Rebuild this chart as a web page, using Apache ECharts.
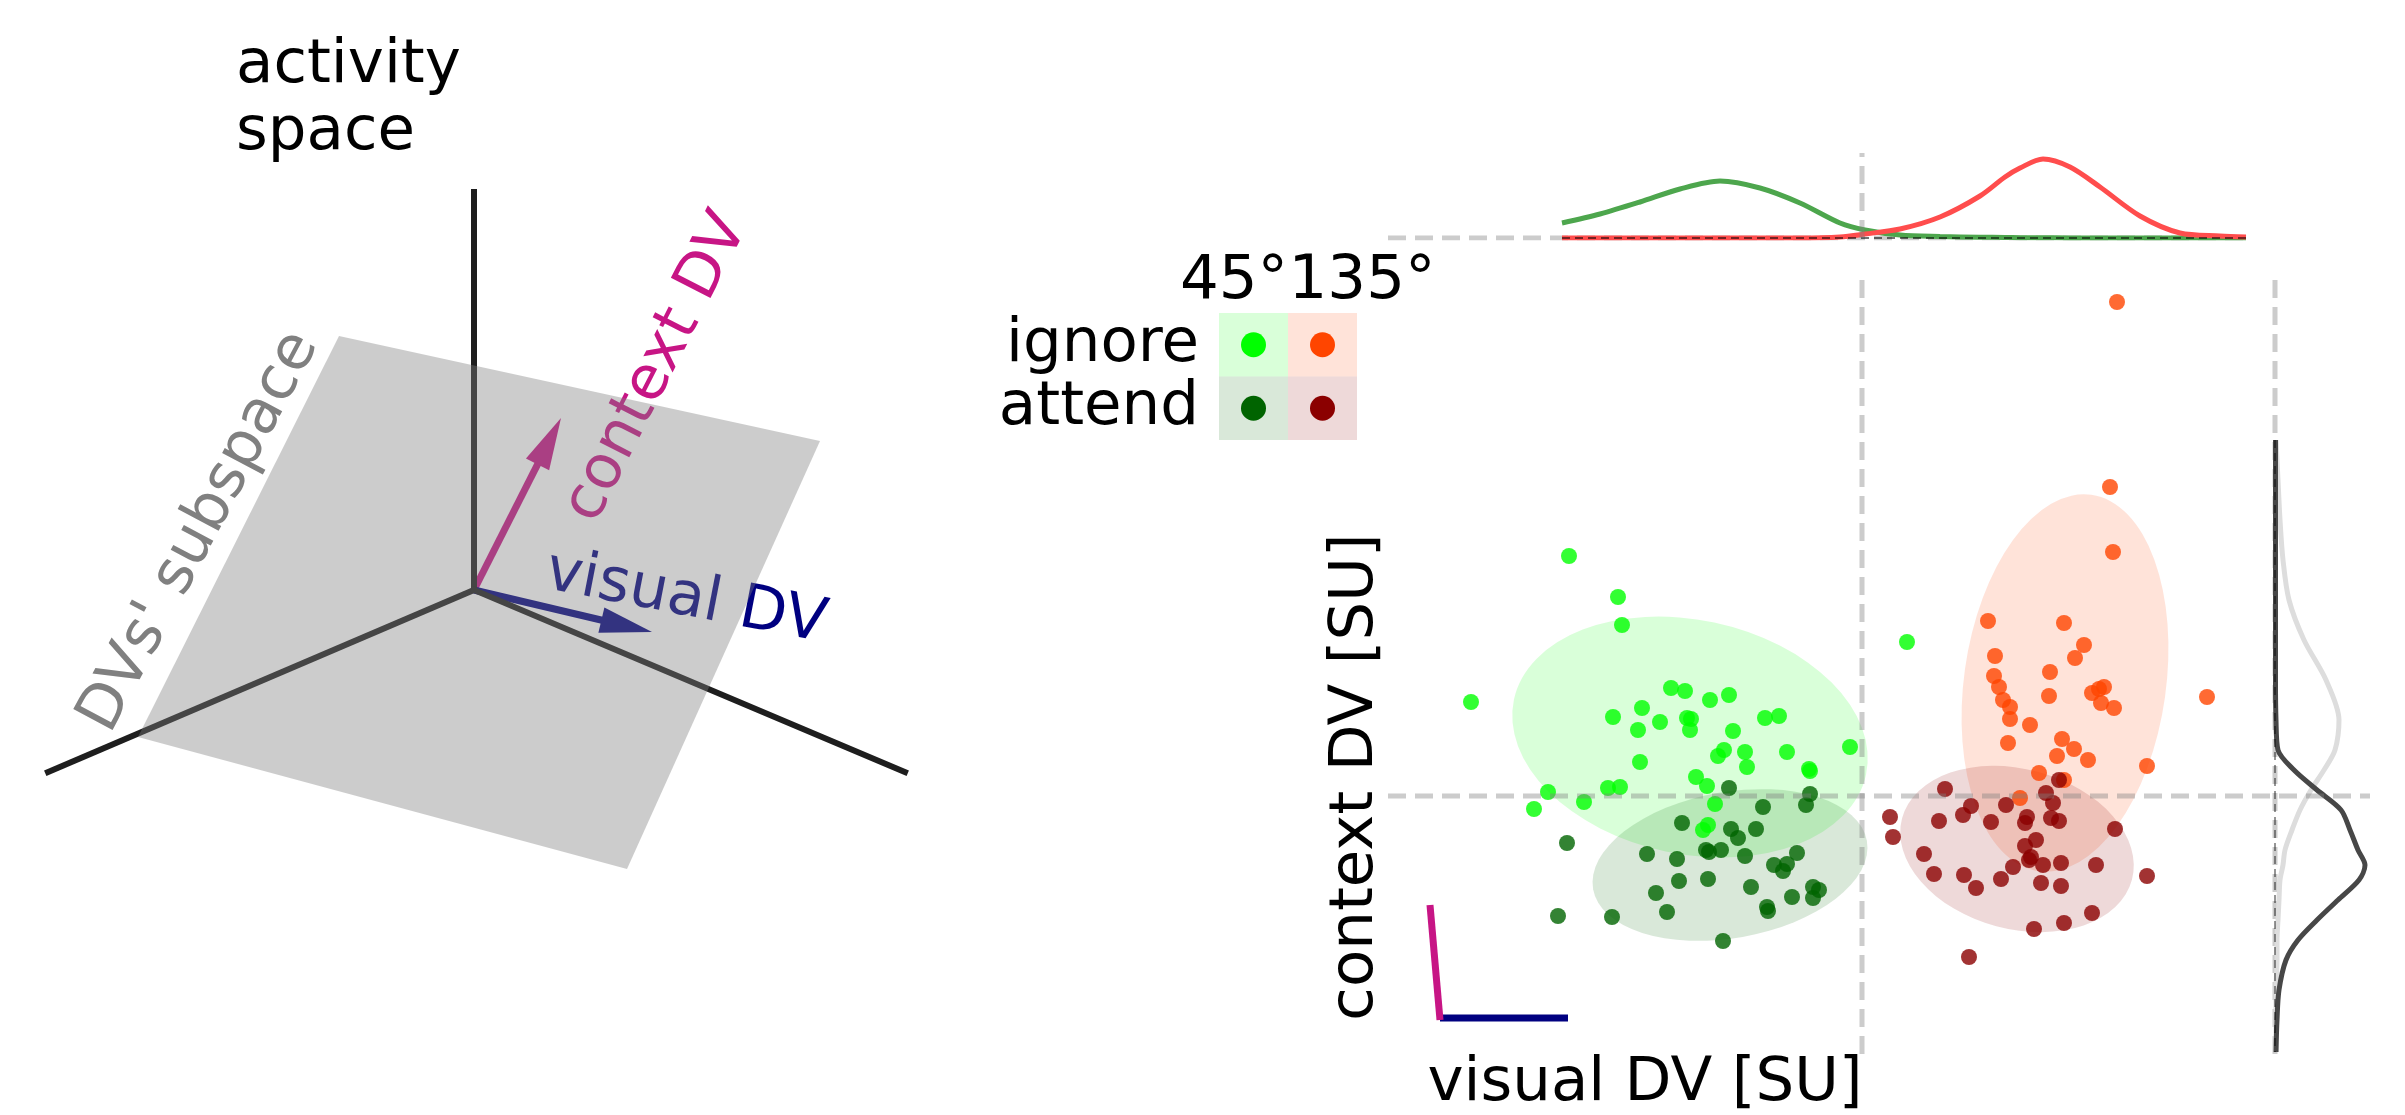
<!DOCTYPE html>
<html><head><meta charset="utf-8">
<script src="https://cdn.jsdelivr.net/npm/echarts@6/dist/echarts.min.js"></script>
<style>html,body{margin:0;padding:0;background:#fff}#c{width:2405px;height:1115px}</style>
</head><body><div id="c"></div>
<script>
// ---------------- data ----------------
// scatter: [visual DV, context DV] in SU
const ignore45 = [[-2.93,2.40],[-2.44,1.99],[-2.40,1.71],[-3.91,0.94],[-1.91,1.08],[-1.77,1.05],[-1.52,0.96],[-1.33,1.01],[-2.49,0.79],[-2.20,0.88],[-2.02,0.74],[-2.24,0.66],[-1.75,0.78],[-1.71,0.77],[-1.72,0.66],[-1.29,0.65],[-0.97,0.78],[-0.83,0.80],[-0.12,0.49],[-0.75,0.44],[-1.38,0.46],[-1.44,0.40],[-1.17,0.44],[-1.15,0.29],[-2.22,0.34],[-0.53,0.27],[-0.52,0.25],[-1.66,0.19],[-1.55,0.10],[-2.54,0.08],[-2.42,0.09],[-3.14,0.04],[-2.78,-0.06],[-3.28,-0.13],[-1.47,-0.08],[-1.54,-0.29],[-1.59,-0.34],[0.45,1.54]];
const attend45 = [[-1.33,0.08],[-0.52,0.02],[-0.56,-0.09],[-0.99,-0.11],[-1.80,-0.27],[-1.31,-0.33],[-1.06,-0.33],[-1.24,-0.42],[-2.95,-0.47],[-2.15,-0.58],[-1.85,-0.63],[-1.56,-0.54],[-1.53,-0.56],[-1.41,-0.54],[-1.17,-0.60],[-0.65,-0.57],[-0.88,-0.69],[-0.75,-0.68],[-0.79,-0.75],[-1.83,-0.85],[-1.54,-0.83],[-2.06,-0.97],[-1.11,-0.91],[-0.49,-0.91],[-0.43,-0.94],[-0.49,-1.02],[-0.70,-1.01],[-0.95,-1.11],[-0.94,-1.15],[-1.95,-1.16],[-3.04,-1.20],[-2.50,-1.21],[-1.39,-1.45]];
const ignore135 = [[2.55,4.94],[2.48,3.09],[2.51,2.44],[1.26,1.75],[2.02,1.73],[2.22,1.51],[2.13,1.38],[1.33,1.40],[1.88,1.24],[1.32,1.20],[1.37,1.09],[1.87,1.00],[2.30,1.03],[2.42,1.09],[2.37,1.07],[1.41,0.96],[1.48,0.89],[2.39,0.93],[2.52,0.88],[3.45,0.99],[1.48,0.77],[1.68,0.71],[1.46,0.53],[2.00,0.57],[2.12,0.47],[1.95,0.40],[2.26,0.36],[2.85,0.30],[1.77,0.23],[2.02,0.16],[1.58,-0.02]];
const attend135 = [[1.97,0.16],[0.83,0.07],[1.84,0.03],[1.91,-0.07],[1.44,-0.09],[1.09,-0.10],[1.01,-0.19],[0.28,-0.21],[0.77,-0.25],[1.29,-0.26],[1.65,-0.21],[1.63,-0.27],[1.89,-0.22],[1.97,-0.25],[2.53,-0.33],[0.31,-0.41],[1.74,-0.44],[1.63,-0.50],[0.62,-0.58],[1.69,-0.61],[1.67,-0.64],[1.81,-0.69],[1.99,-0.67],[1.51,-0.71],[2.34,-0.69],[0.72,-0.78],[1.02,-0.79],[1.39,-0.83],[2.85,-0.80],[1.14,-0.92],[1.79,-0.87],[1.99,-0.90],[2.30,-1.17],[1.72,-1.33],[2.02,-1.27],[1.07,-1.61]];

// covariance ellipses: [cx, cy, rx, ry, angleDeg]
const ellipseIgnore45 = [-1.72, 0.59, 1.80, 1.17, -12];
const ellipseAttend45 = [-1.32, -0.69, 1.39, 0.73, 10];
const ellipseIgnore135 = [2.03, 1.13, 1.01, 1.90, -8];
const ellipseAttend135 = [1.55, -0.53, 1.19, 0.80, -15];

// top marginal: density of visual DV
const topX = [-3.00,-2.62,-2.22,-1.82,-1.42,-1.02,-0.62,-0.22,0.03,0.38,0.78,1.18,1.43,1.58,1.81,2.08,2.38,2.78,3.18,3.58,3.84];
const top45 = [15,24,36,49,57,50,35,15,8,3,1.5,0.8,0.5,0.3,0.2,0.1,0.1,0.1,0.1,0.1,0.1];
const top135 = [0,0,0,0,0,0,0,1,4,9,21,42,61,70,79,71,51,22,5,2,1];

// right marginal: density of context DV
const rightY = [3.56,3.16,2.76,2.36,1.96,1.56,1.16,0.76,0.46,0.26,0.06,-0.14,-0.34,-0.54,-0.69,-0.84,-1.04,-1.24,-1.44,-1.64,-1.94,-2.24,-2.56];
const rightAttend = [0.5,0.5,0.5,0.5,0.5,0.5,0.5,1,3,19,42,66,75,83,90,84,63,42,23,11,4,2,1];
const rightIgnore = [1,3,5,8,14,29,51,64,60,49,36,25,17,10,8,5,4,3,2,2,1,1,1];

// scale bar (projected DV directions)
const barContext = [[-4.32,-1.09],[-4.22,-2.24]];
const barVisual = [[-4.22,-2.22],[-2.94,-2.22]];

// legend table
const legendCols = ['45°','135°'];
const legendRows = ['ignore','attend'];
const legendCells = [[0,0,0],[1,0,2],[0,1,1],[1,1,3]]; // col,row,colorIdx
const groupColors = ['#00ff00','#006400','#ff4500','#8b0000'];

// schematic (activity space)
const axisUp = [[0,0],[0,3.98]];
const axisLeft = [[0,0],[-4.26,-1.82]];
const axisRight = [[0,0],[4.31,-1.82]];
const planeX = [-1.35, 3.46, 1.53, -3.36];
const planeY = [2.54, 1.49, -2.79, -1.47];
const arrowContext = [0,0,0.87,1.72];
const arrowVisual = [0,0,1.78,-0.42];

// ---------------- chart ----------------
const FONT = 'DejaVu Sans';
const chart = echarts.init(document.getElementById('c'));

const DASH = {color:'rgba(128,128,128,0.4)', width:5, type:[18,9]};
function lineS(data, xi, style, z, extra) {
  return Object.assign({type:'line', xAxisIndex:xi, yAxisIndex:xi, data, symbol:'none', showSymbol:false,
    lineStyle:style, z, silent:true, animation:false}, extra||{});
}
function ellipseSeries(e, color) {
  return {type:'custom', xAxisIndex:1, yAxisIndex:1, z:2, silent:true, data:[e],
    renderItem(params, api){
      const c = api.coord([api.value(0), api.value(1)]);
      const s = api.size([api.value(2), api.value(3)]);
      return {type:'circle', x:c[0], y:c[1], rotation: api.value(4)*Math.PI/180,
        scaleX: s[0]/s[1], scaleY:1, shape:{cx:0, cy:0, r:s[1]},
        style:{fill:color, opacity:0.15}};
    }};
}
function scatterS(data, color) {
  return {type:'scatter', xAxisIndex:1, yAxisIndex:1, data, symbolSize:16, z:3, silent:true,
    itemStyle:{color, opacity:0.8}};
}
const arrowColors = ['#c71585','#000080'];
function txt(text, x, y, rot, fill, z, align) {
  return {type:'text', x, y, rotation: rot*Math.PI/180, z, zlevel:0,
    style:{text, fill, fontSize:61, fontFamily:FONT, align: align||'center', verticalAlign:'middle'}};
}
const AX = {color:'#1e1e1e', width:6, cap:'square'};

const option = {
  animation:false,
  backgroundColor:'#ffffff',
  textStyle:{fontFamily:FONT},
  grid:[
    {left:0, top:0, width:1000, height:1000},
    {left:1388, top:273, width:982, height:781},
    {left:1388, top:153, width:982, height:85},
    {left:2275, top:273, width:95, height:781},
    {left:1219, top:313, width:138, height:127}
  ],
  xAxis:[
    {gridIndex:0, type:'value', min:-4.74, max:5.26, show:false},
    {gridIndex:1, type:'value', min:-4.74, max:5.08, show:false},
    {gridIndex:2, type:'value', min:-4.74, max:5.08, show:false},
    {gridIndex:3, type:'value', min:0, max:95, show:false},
    {gridIndex:4, type:'category', data:legendCols, show:false}
  ],
  yAxis:[
    {gridIndex:0, type:'value', min:-4.10, max:5.90, show:false},
    {gridIndex:1, type:'value', min:-2.58, max:5.23, show:false},
    {gridIndex:2, type:'value', min:0, max:85, show:false},
    {gridIndex:3, type:'value', min:-2.58, max:5.23, show:false},
    {gridIndex:4, type:'category', data:legendRows, inverse:true,
      axisLine:{show:false}, axisTick:{show:false}, splitLine:{show:false},
      axisLabel:{interval:0, hideOverlap:false, fontSize:61, fontFamily:FONT, color:'#000', margin:20}}
  ],
  series:[
    // schematic
    lineS(axisUp, 0, AX, 1),
    lineS(axisLeft, 0, AX, 1),
    lineS(axisRight, 0, AX, 1),
    {type:'custom', xAxisIndex:0, yAxisIndex:0, z:1, silent:true, data:[arrowContext, arrowVisual],
      renderItem(params, api){
        const p0 = api.coord([api.value(0), api.value(1)]);
        const p1 = api.coord([api.value(2), api.value(3)]);
        const color = arrowColors[params.dataIndex];
        const dx = p1[0]-p0[0], dy = p1[1]-p0[1], len = Math.hypot(dx,dy);
        const ux = dx/len, uy = dy/len, px = -uy, py = ux;
        const HL = 52, HW = 26;
        const b = [p1[0]-ux*HL, p1[1]-uy*HL];
        return {type:'group', children:[
          {type:'line', shape:{x1:p0[0], y1:p0[1], x2:b[0]+ux*4, y2:b[1]+uy*4}, style:{stroke:color, lineWidth:7}},
          {type:'polygon', shape:{points:[[p1[0],p1[1]],[b[0]+px*HW/2,b[1]+py*HW/2],[b[0]-px*HW/2,b[1]-py*HW/2]]}, style:{fill:color}}
        ]};
      }},
    {type:'custom', xAxisIndex:0, yAxisIndex:0, z:5, silent:true, data:[[0]],
      renderItem(params, api){
        const pts = planeX.map((x,i)=>api.coord([x, planeY[i]]));
        return {type:'polygon', shape:{points:pts}, style:{fill:'rgba(128,128,128,0.4)'}};
      }},
    // scatter panel
    ellipseSeries(ellipseIgnore45, '#00ff00'),
    ellipseSeries(ellipseIgnore135, '#ff4500'),
    ellipseSeries(ellipseAttend45, '#006400'),
    ellipseSeries(ellipseAttend135, '#8b0000'),
    scatterS(ignore45, '#00ff00'),
    scatterS(attend45, '#006400'),
    scatterS(ignore135, '#ff4500'),
    scatterS(attend135, '#8b0000'),
    lineS([[0,-2.58],[0,5.23]], 1, DASH, 6),
    lineS([[-4.74,0],[5.08,0]], 1, DASH, 6),
    lineS(barVisual, 1, {color:'#000080', width:7}, 4),
    lineS(barContext, 1, {color:'#c71585', width:7}, 4),
    // top marginal
    lineS([[-4.74,0],[3.85,0]], 2, DASH, 2),
    lineS([[0,0],[0,85]], 2, DASH, 6),
    lineS(topX.map((x,i)=>[x, top45[i]]), 2, {color:'#4da64d', width:5}, 3, {smooth:0.3}),
    lineS(topX.map((x,i)=>[x, top135[i]]), 2, {color:'#ff4d4d', width:5}, 3, {smooth:0.3}),
    lineS([[-3.00,0],[3.84,0]], 2, {color:'rgba(0,0,0,0.55)', width:2, type:[8,5]}, 4),
    // right marginal
    lineS([[0,-2.58],[0,5.23]], 3, DASH, 2),
    lineS(rightY.map((y,i)=>[rightIgnore[i], y]), 3, {color:'#dddddd', width:5}, 3, {smooth:0.3}),
    lineS(rightY.map((y,i)=>[rightAttend[i], y]), 3, {color:'#474747', width:5}, 3, {smooth:0.3}),
    lineS([[0,3.56],[0,-2.56]], 3, {color:'rgba(0,0,0,0.55)', width:1.5, type:[8,5]}, 4),
    // legend table
    {type:'custom', xAxisIndex:4, yAxisIndex:4, z:2, silent:true, data:legendCells,
      renderItem(params, api){
        const c = api.coord([api.value(0), api.value(1)]);
        const s = api.size([1,1]);
        const color = groupColors[api.value(2)];
        return {type:'group', children:[
          {type:'rect', shape:{x:c[0]-s[0]/2, y:c[1]-s[1]/2, width:s[0], height:s[1]}, style:{fill:color, opacity:0.15}},
          {type:'circle', shape:{cx:c[0], cy:c[1], r:12.5}, style:{fill:color}}
        ]};
      }}
  ],
  graphic:{elements:[
    txt('activity', 236, 66, 0, '#000', 10, 'left'),
    txt('space', 236, 133, 0, '#000', 10, 'left'),
    txt('context DV', 657, 368, 63, '#c71585', 1),
    txt('visual DV', 686, 599, -11, '#000080', 1),
    txt("DVs' subspace", 200, 532, 62, '#808080', 10),
    txt('45°', 1234, 282, 0, '#000', 10),
    txt('135°', 1362, 282, 0, '#000', 10),
    txt('context DV [SU]', 1356, 777, 90, '#000', 10),
    txt('visual DV [SU]', 1645, 1084, 0, '#000', 10)
  ]}
};
chart.setOption(option);
</script>
</body></html>
